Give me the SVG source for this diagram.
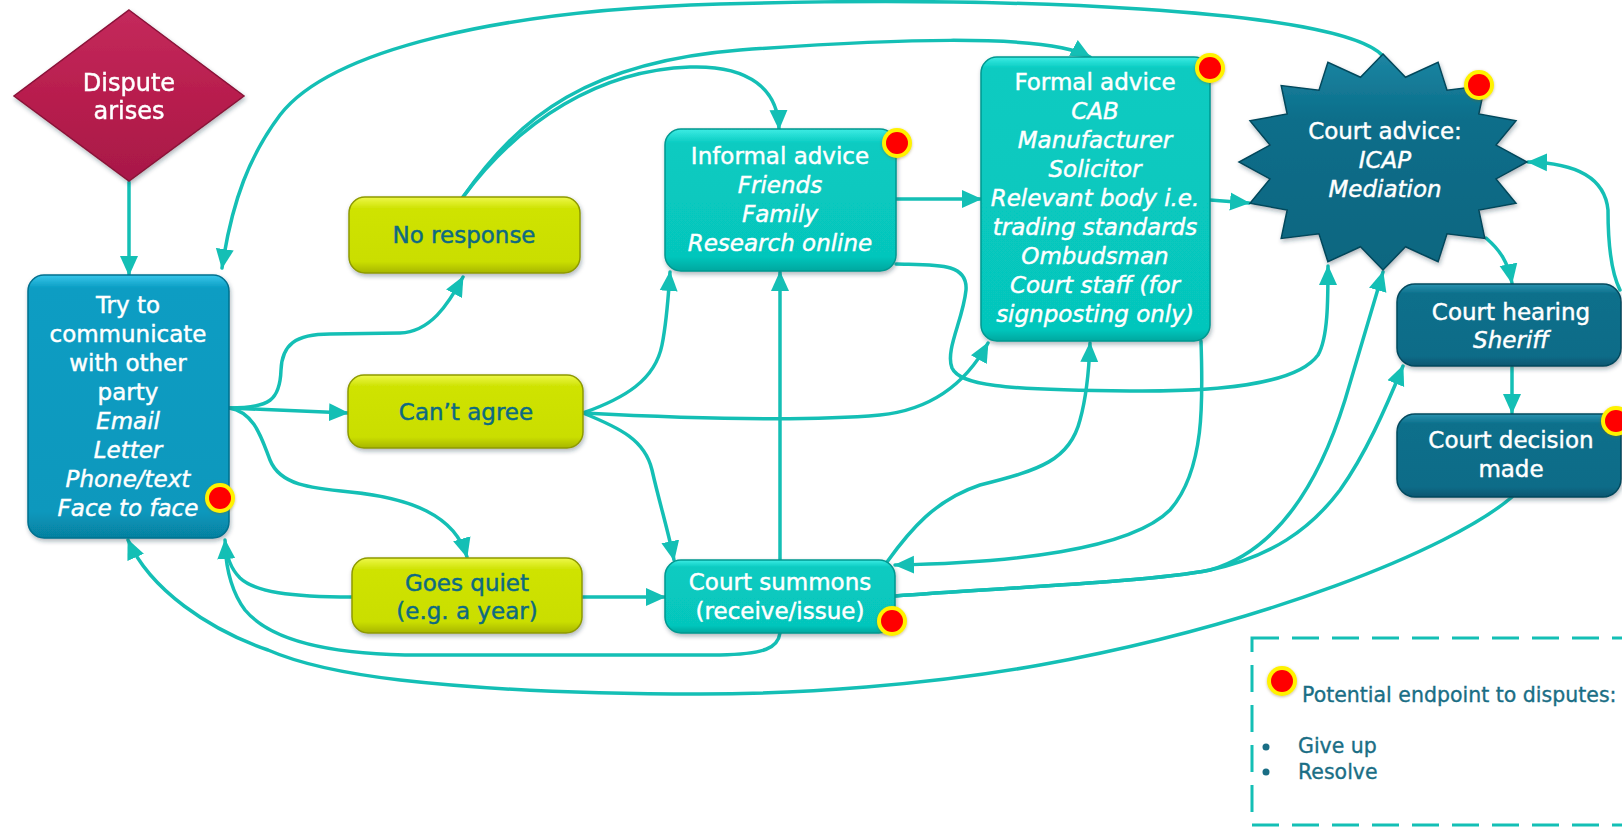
<svg xmlns="http://www.w3.org/2000/svg" width="1622" height="827" viewBox="0 0 1622 827">
<style>
text{font-family:"DejaVu Sans","Liberation Sans",sans-serif;font-size:23px;text-anchor:middle}
.w{fill:#ffffff;stroke:#ffffff;stroke-width:0.45}
.y{fill:#0D6A82;stroke:#0D6A82;stroke-width:0.45}
.i{font-style:italic}
.c{fill:none;stroke:#14BFB5;stroke-width:3.5;stroke-linecap:round;stroke-linejoin:round}
.a{marker-end:url(#arr)}
.lg{fill:#1A6E85;stroke:#1A6E85;stroke-width:0.35;font-size:20.5px;text-anchor:start}
</style>
<defs>
<marker id="arr" viewBox="0 0 20 20" refX="19" refY="10" markerWidth="20" markerHeight="20" markerUnits="userSpaceOnUse" orient="auto"><path d="M0,1 L20,10 L0,19 z" fill="#14BFB5"/></marker>
<filter id="sh" x="-10%" y="-10%" width="120%" height="125%"><feDropShadow dx="1" dy="2.5" stdDeviation="2" flood-color="#203040" flood-opacity="0.35"/></filter>
<filter id="glow" x="-50%" y="-50%" width="200%" height="200%"><feDropShadow dx="0" dy="1" stdDeviation="1.5" flood-color="#806000" flood-opacity="0.4"/></filter>
<linearGradient id="gTry" x1="0" y1="0" x2="0" y2="1"><stop offset="0" stop-color="#38C6EA"/><stop offset="0.05" stop-color="#0A9DC3"/><stop offset="0.9" stop-color="#0898BD"/><stop offset="1" stop-color="#06809F"/></linearGradient>
<linearGradient id="gY" x1="0" y1="0" x2="0" y2="1"><stop offset="0" stop-color="#EEF84A"/><stop offset="0.15" stop-color="#CFE304"/><stop offset="0.85" stop-color="#CADE00"/><stop offset="1" stop-color="#A7B600"/></linearGradient>
<linearGradient id="gT" x1="0" y1="0" x2="0" y2="1"><stop offset="0" stop-color="#3DECE4"/><stop offset="0.1" stop-color="#08CBC1"/><stop offset="0.9" stop-color="#06C6BC"/><stop offset="1" stop-color="#04A79F"/></linearGradient>
<linearGradient id="gTf" x1="0" y1="0" x2="0" y2="1"><stop offset="0" stop-color="#3DECE4"/><stop offset="0.04" stop-color="#08CBC1"/><stop offset="0.96" stop-color="#06C6BC"/><stop offset="1" stop-color="#04A79F"/></linearGradient>
<linearGradient id="gD" x1="0" y1="0" x2="0" y2="1"><stop offset="0" stop-color="#2A93B0"/><stop offset="0.12" stop-color="#0B6F8B"/><stop offset="0.88" stop-color="#0A6C88"/><stop offset="1" stop-color="#075570"/></linearGradient>
<linearGradient id="gS" x1="0" y1="0" x2="0" y2="1"><stop offset="0" stop-color="#1C86A3"/><stop offset="0.3" stop-color="#0B6E8A"/><stop offset="1" stop-color="#096680"/></linearGradient>
<linearGradient id="gM" x1="0" y1="0" x2="0" y2="1"><stop offset="0" stop-color="#C42A5C"/><stop offset="0.5" stop-color="#B81E4E"/><stop offset="1" stop-color="#A81848"/></linearGradient>
<g id="dot"><circle r="15" fill="#FFF200"/><circle r="11" fill="#FF0000"/></g>
</defs>
<rect width="1622" height="827" fill="#ffffff"/>

<g id="connectors">
<path class="c a" d="M129,182 L129,275"/>
<path class="c a" d="M1383,56 C1340,8 1000,-4 720,4 C500,10 330,50 280,115 C250,155 232,200 222,268"/>
<path class="c a" d="M463,197 C520,115 590,62 740,50 C880,40 1045,32 1090,57"/>
<path class="c a" d="M463,197 C520,120 600,70 690,67 C750,65 778,90 779,129"/>
<path class="c a" d="M229,408 C270,408 280,400 281,370 C282,345 295,334 330,334 L400,333 C430,332 448,305 463,277"/>
<path class="c a" d="M229,408 L348,413"/>
<path class="c a" d="M229,408 C255,412 262,440 270,460 C280,485 310,488 350,492 C410,498 455,515 467,557"/>
<path class="c a" d="M352,597 C290,597 255,592 240,578 C230,568 226,555 225,540"/>
<path class="c" d="M780,633 C778,648 765,654 720,655 L420,655 C330,655 270,640 245,610 C230,590 226,565 225,545"/>
<path class="c a" d="M1512,497 C1450,550 1260,625 1040,665 C930,685 800,694 700,694 C560,694 470,688 400,680 C340,673 300,664 268,650 C210,630 150,590 128,540"/>
<path class="c a" d="M583,413 C625,398 655,380 662,345 C667,320 668,300 670,272"/>
<path class="c a" d="M583,413 C680,418 800,422 880,415 C930,410 965,385 988,343"/>
<path class="c a" d="M583,413 C620,428 645,440 652,470 C660,505 668,530 674,560"/>
<path class="c a" d="M582,597 L665,597"/>
<path class="c a" d="M780,560 L780,272"/>
<path class="c a" d="M896,199 L981,199"/>
<path class="c a" d="M896,264 C935,265 968,262 966,290 C963,320 945,350 952,368 C960,385 1000,390 1130,391 C1240,392 1300,380 1318,355 C1328,338 1328,300 1328,266"/>
<path class="c a" d="M1210,200 L1249,203"/>
<path class="c a" d="M1201,341 C1203,400 1205,470 1170,510 C1130,550 1010,563 895,565"/>
<path class="c a" d="M887,562 C910,530 935,500 980,485 C1040,470 1070,460 1080,420 C1087,395 1089,370 1090,343"/>
<path class="c a" d="M895,596 C1000,588 1150,582 1210,570 C1280,550 1320,480 1345,400 C1360,350 1372,310 1383,272"/>
<path class="c a" d="M895,596 C1000,588 1150,582 1210,570 C1270,557 1310,530 1340,490 C1365,455 1385,410 1403,366"/>
<path class="c a" d="M1486,238 C1500,250 1508,262 1512,283"/>
<path class="c a" d="M1512,367 L1512,413"/>
<path class="c a" d="M1620,290 C1610,270 1608,240 1608,210 C1605,180 1580,163 1528,162"/>
</g>

<g id="n-dispute" filter="url(#sh)">
<polygon points="129,10 244,96 129,181 14,96" fill="url(#gM)" stroke="#8A1238" stroke-width="1.5"/>
<text class="w" x="129" y="91" style="font-size:24px">Dispute</text>
<text class="w" x="129" y="119" style="font-size:24px">arises</text>
</g>

<g id="n-try">
<rect x="28" y="275" width="201" height="263" rx="16" fill="url(#gTry)" stroke="#05708E" stroke-width="1.5" filter="url(#sh)"/>
<text class="w" x="128" y="313">Try to</text>
<text class="w" x="128" y="342">communicate</text>
<text class="w" x="128" y="371">with other</text>
<text class="w" x="128" y="400">party</text>
<text class="w i" x="128" y="429">Email</text>
<text class="w i" x="128" y="458">Letter</text>
<text class="w i" x="128" y="487">Phone/text</text>
<text class="w i" x="128" y="516">Face to face</text>
<use href="#dot" x="220" y="498" filter="url(#glow)"/>
</g>

<g id="n-noresponse">
<rect x="349" y="197" width="231" height="76" rx="16" fill="url(#gY)" stroke="#8E9A00" stroke-width="1.5" filter="url(#sh)"/>
<text class="y" x="464" y="243">No response</text>
</g>

<g id="n-cantagree">
<rect x="348" y="375" width="235" height="73" rx="16" fill="url(#gY)" stroke="#8E9A00" stroke-width="1.5" filter="url(#sh)"/>
<text class="y" x="466" y="420">Can’t agree</text>
</g>

<g id="n-goesquiet">
<rect x="352" y="558" width="230" height="75" rx="16" fill="url(#gY)" stroke="#8E9A00" stroke-width="1.5" filter="url(#sh)"/>
<text class="y" x="467" y="591">Goes quiet</text>
<text class="y" x="467" y="619">(e.g. a year)</text>
</g>

<g id="n-summons">
<rect x="665" y="560" width="230" height="73" rx="16" fill="url(#gT)" stroke="#049890" stroke-width="1.5" filter="url(#sh)"/>
<text class="w" x="780" y="590">Court summons</text>
<text class="w" x="780" y="619">(receive/issue)</text>
<use href="#dot" x="892" y="621" filter="url(#glow)"/>
</g>

<g id="n-informal">
<rect x="665" y="129" width="231" height="142" rx="16" fill="url(#gT)" stroke="#049890" stroke-width="1.5" filter="url(#sh)"/>
<text class="w" x="780" y="164">Informal advice</text>
<text class="w i" x="780" y="193">Friends</text>
<text class="w i" x="780" y="222">Family</text>
<text class="w i" x="780" y="251">Research online</text>
<use href="#dot" x="897" y="143" filter="url(#glow)"/>
</g>

<g id="n-formal">
<rect x="981" y="57" width="229" height="284" rx="16" fill="url(#gTf)" stroke="#049890" stroke-width="1.5" filter="url(#sh)"/>
<text class="w" x="1095" y="90">Formal advice</text>
<text class="w i" x="1095" y="119">CAB</text>
<text class="w i" x="1095" y="148">Manufacturer</text>
<text class="w i" x="1095" y="177">Solicitor</text>
<text class="w i" x="1095" y="206">Relevant body i.e.</text>
<text class="w i" x="1095" y="235">trading standards</text>
<text class="w i" x="1095" y="264">Ombudsman</text>
<text class="w i" x="1095" y="293">Court staff (for</text>
<text class="w i" x="1095" y="322">signposting only)</text>
<use href="#dot" x="1210" y="68" filter="url(#glow)"/>
</g>

<g id="n-courtadvice">
<polygon points="1383,54 1405.5,77.3 1438.1,62.2 1447,90.2 1484.8,85.6 1478.8,114 1516,120.7 1496,145.1 1527,162 1496,178.9 1516,203.3 1478.8,210 1484.8,238.4 1447,233.8 1438.1,261.8 1405.5,246.7 1383,270 1360.5,246.7 1327.9,261.8 1319,233.8 1281.2,238.4 1287.2,210 1250,203.3 1270,178.9 1239,162 1270,145.1 1250,120.7 1287.2,114 1281.2,85.6 1319,90.2 1327.9,62.2 1360.5,77.3" fill="url(#gS)" stroke="#06485C" stroke-width="1.5" stroke-linejoin="miter" filter="url(#sh)"/>
<text class="w" x="1385" y="139">Court advice:</text>
<text class="w i" x="1385" y="168">ICAP</text>
<text class="w i" x="1385" y="197">Mediation</text>
<use href="#dot" x="1479" y="85" filter="url(#glow)"/>
</g>

<g id="n-hearing">
<rect x="1397" y="284" width="224" height="82" rx="18" fill="url(#gD)" stroke="#064A5E" stroke-width="1.5" filter="url(#sh)"/>
<text class="w" x="1511" y="320">Court hearing</text>
<text class="w i" x="1511" y="348">Sheriff</text>
</g>

<g id="n-decision">
<rect x="1397" y="414" width="224" height="83" rx="18" fill="url(#gD)" stroke="#064A5E" stroke-width="1.5" filter="url(#sh)"/>
<text class="w" x="1511" y="448">Court decision</text>
<text class="w" x="1511" y="477">made</text>
<use href="#dot" x="1616" y="421" filter="url(#glow)"/>
</g>

<g id="legend">
<rect x="1252" y="638" width="420" height="187" fill="#ffffff" stroke="#14BFB5" stroke-width="3" stroke-dasharray="27 13"/>
<use href="#dot" x="1282" y="681" filter="url(#glow)"/>
<text class="lg" x="1302" y="702">Potential endpoint to disputes:</text>
<circle cx="1266" cy="747" r="3.5" fill="#1A6E85"/>
<circle cx="1266" cy="772" r="3.5" fill="#1A6E85"/>
<text class="lg" x="1298" y="753">Give up</text>
<text class="lg" x="1298" y="779">Resolve</text>
</g>
</svg>
